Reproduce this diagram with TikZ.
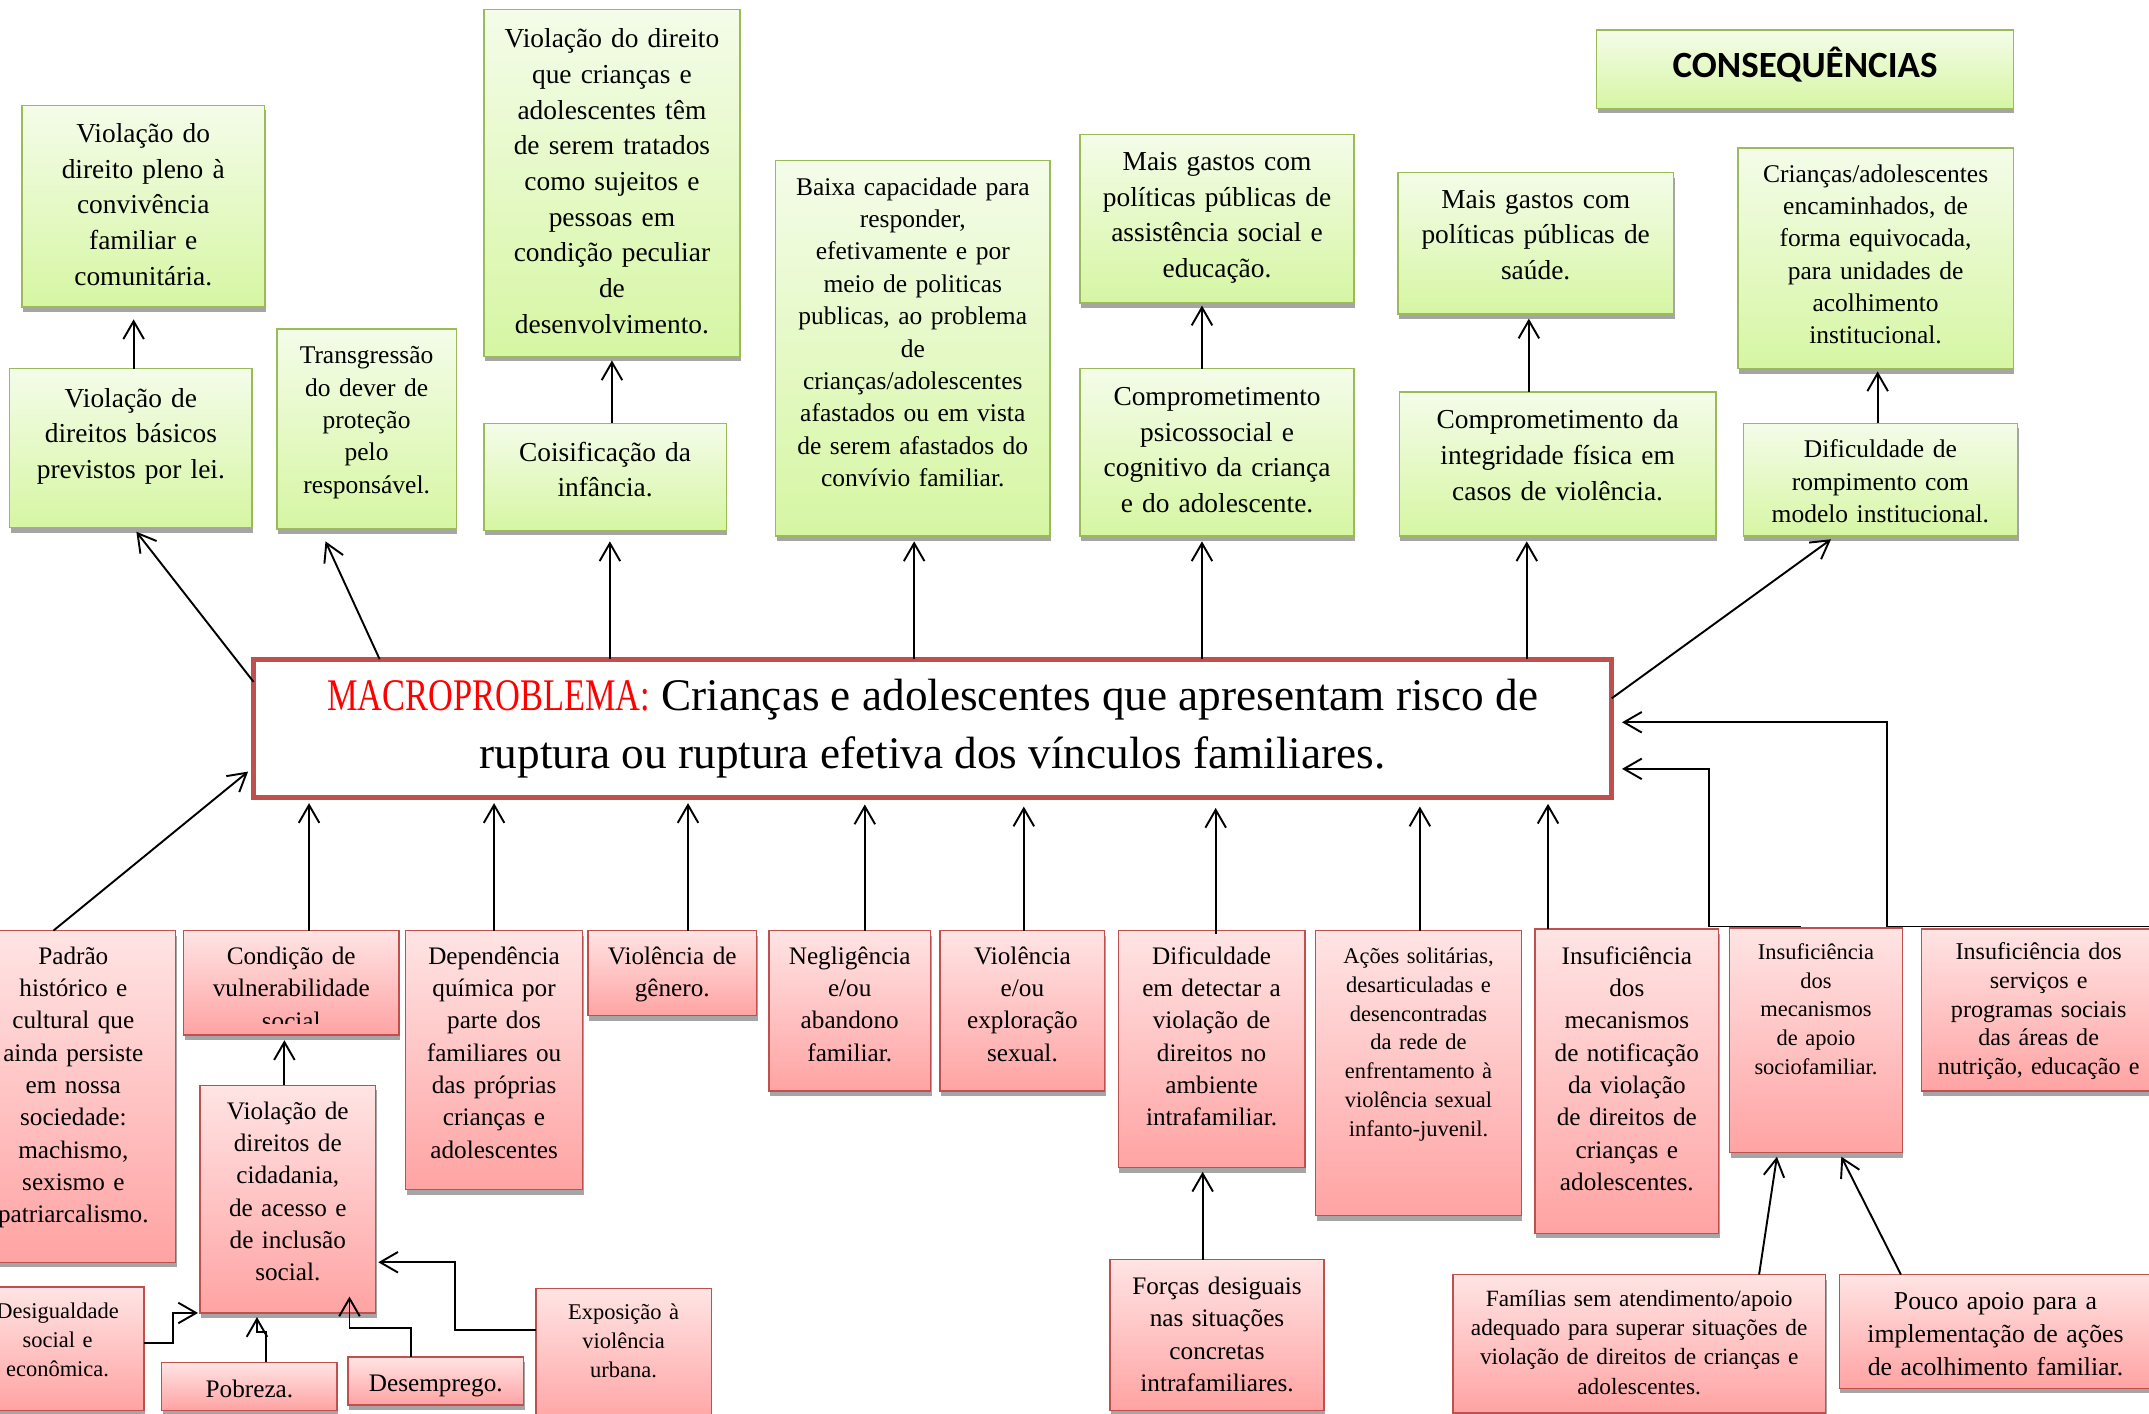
\documentclass[tikz,border=0pt]{standalone}
\usepackage{fontspec}
\setmainfont{Liberation Serif}
\newfontfamily\TitleFont{Carlito}
\usetikzlibrary{
  arrows.meta
  , shadows
  , calc
}
\definecolor{CnsqTop}{HTML}{F4FCE9}
\definecolor{CnsqBot}{HTML}{D6F6A3}
\definecolor{CnsqLine}{HTML}{9BBB59}
\definecolor{CauseTop}{HTML}{FFE4E4}
\definecolor{CauseBot}{HTML}{FFA3A3}
\definecolor{CauseLine}{HTML}{C0504D}
\definecolor{ShdwGray}{HTML}{A5A5A5}
\definecolor{MacroRed}{HTML}{FF0000}
\newcommand{\CnsqFont}{\fontsize{10}{13}\selectfont}
\newcommand{\CnsqFontSm}{\fontsize{9.3}{11.8}\selectfont}
\newcommand{\CauseFont}{\fontsize{9.2}{11.8}\selectfont}
\newcommand{\CauseFontSm}{\fontsize{8.2}{10.5}\selectfont}
\newcommand{\MacroFont}{\fontsize{16.5}{21}\selectfont}
\tikzset{
  box/.style={
    rectangle,
    anchor=north west,
    inner sep=0pt,
    outer sep=0pt,
    line width=0.55pt,
    align=center,
    general shadow={fill=ShdwGray, shadow xshift=0.4pt, shadow yshift=-1.8pt}
  },
  cnsq/.style={box, draw=CnsqLine, top color=CnsqTop, bottom color=CnsqBot, font=\CnsqFont},
  cause/.style={box, draw=CauseLine, top color=CauseTop, bottom color=CauseBot, font=\CauseFont},
  % width, baseline of first line, rest below it
  sz/.style n args={3}{minimum width=#1, text width=#1, text height=#2, text depth=#3},
  arr/.style={-{Straight Barb[length=6.5pt, width=7.5pt]}, line width=0.7pt},
}
\begin{document}
\begin{tikzpicture}[x=0.5pt, y=-0.5pt]
  \useasboundingbox (0,0) rectangle (1568,1031);
  \fill[white] (0,0) rectangle (1568,1031);
  \clip (0,0) rectangle (1568,1031);

  % ---- consequencias
  \node[cnsq, sz={88.5pt}{13.5pt}{60pt}] (DrtPleno) at (16,77)
    {Violação do\\direito pleno à\\convivência\\familiar e\\comunitária.};
  \node[cnsq, sz={88.5pt}{14pt}{44pt}] (DrtBasic) at (7,269)
    {Violação de\\direitos básicos\\previstos por lei.};
  \node[cnsq, sz={65.5pt}{12.75pt}{60.25pt}, font=\CnsqFontSm] (Trnsgr) at (202,240)
    {Transgressão\\do dever de\\proteção\\pelo\\responsável.};
  \node[cnsq, sz={93.5pt}{14pt}{112.5pt}] (DrtSujeito) at (353,7)
    {Violação do direito\\que crianças e\\adolescentes têm\\de serem tratados\\como sujeitos e\\pessoas em\\condição peculiar\\de\\desenvolvimento.};
  \node[cnsq, sz={88.5pt}{13.75pt}{25.25pt}] (Coisif) at (353,309)
    {Coisificação da\\infância.};
  \node[cnsq, sz={100pt}{12.75pt}{124.25pt}, font=\CnsqFontSm] (BaixaCap) at (566,117)
    {Baixa capacidade para\\responder,\\efetivamente e por\\meio de politicas\\publicas, ao problema\\de\\crianças/adolescentes\\afastados ou em vista\\de serem afastados do\\convívio familiar.};
  \node[cnsq, sz={100pt}{13.25pt}{48.25pt}] (GastoAssist) at (788,98)
    {Mais gastos com\\políticas públicas de\\assistência social e\\educação.};
  \node[cnsq, sz={100pt}{13.5pt}{47.5pt}] (CompPsico) at (788,269)
    {Comprometimento\\psicossocial e\\cognitivo da criança\\e do adolescente.};
  \node[cnsq, sz={100.5pt}{13pt}{38.5pt}] (GastoSaude) at (1020,126)
    {Mais gastos com\\políticas públicas de\\saúde.};
  \node[cnsq, sz={115.5pt}{13.5pt}{39pt}] (CompFisico) at (1021,286)
    {Comprometimento da\\integridade física em\\casos de violência.};
  \node[cnsq, sz={152pt}{17.35pt}{11.15pt}, font=\TitleFont\bfseries\fontsize{13.5}{16}\selectfont] (CnsqTitle) at (1165,22)
    {CONSEQUÊNCIAS};
  \node[cnsq, sz={100.5pt}{12.5pt}{68pt}, font=\CnsqFontSm] (EncInst) at (1268,108)
    {Crianças/adolescentes\\encaminhados, de\\forma equivocada,\\para unidades de\\acolhimento\\institucional.};
  \node[cnsq, sz={100pt}{12.5pt}{28.5pt}, font=\CnsqFontSm] (DifRomp) at (1272,309)
    {Dificuldade de\\rompimento com\\modelo institucional.};

  % ---- macroproblema
  \node[draw=CauseLine,
    fill=white,
    line width=1.8pt,
    inner sep=0pt,
    outer sep=0pt,
    minimum width=495.5pt,
    minimum height=50.5pt,
    align=center,
    font=\MacroFont] (Macro) at (680.5,531.5)
    {{\color{MacroRed}\scalebox{0.76}[1]{MACROPROBLEMA:}} Crianças e adolescentes que apresentam risco de\\ruptura ou ruptura efetiva dos vínculos familiares.};

  % ---- causas
  \node[cause, sz={74.5pt}{12.25pt}{108.75pt}] (PadHist) at (-21,679)
    {Padrão\\histórico e\\cultural que\\ainda persiste\\em nossa\\sociedade:\\machismo,\\sexismo e\\patriarcalismo.};
  \node[cause, sz={78.5pt}{12.25pt}{25.75pt},
    path picture={
      \clip ([yshift=4pt]path picture bounding box.south west) rectangle (path picture bounding box.north east);
      \node[anchor=base, font=\CauseFont] at ([yshift=-36.1pt]path picture bounding box.north) {social};
    }] (CondVuln) at (134,679)
    {Condição de\\vulnerabilidade};
  \node[cause, sz={64.5pt}{12.25pt}{82.25pt}] (DepQuim) at (296,679)
    {Dependência\\química por\\parte dos\\familiares ou\\das próprias\\crianças e\\adolescentes};
  \node[cause, sz={61.5pt}{12.25pt}{18.75pt}] (VlncGen) at (429,679)
    {Violência de\\gênero.};
  \node[cause, sz={59pt}{12.25pt}{46.25pt}] (Neglig) at (561,679)
    {Negligência\\e/ou\\abandono\\familiar.};
  \node[cause, sz={60pt}{12.25pt}{46.25pt}] (VlncSex) at (686,679)
    {Violência\\e/ou\\exploração\\sexual.};
  \node[cause, sz={68pt}{12.25pt}{74.25pt}] (DifDetect) at (816,679)
    {Dificuldade\\em detectar a\\violação de\\direitos no\\ambiente\\intrafamiliar.};
  \node[cause, sz={75pt}{12pt}{92pt}, font=\CauseFontSm] (AcoesSol) at (960,679)
    {Ações solitárias,\\desarticuladas e\\desencontradas\\da rede de\\enfrentamento à\\violência sexual\\infanto-juvenil.};
  \node[cause, sz={67pt}{12.75pt}{98.25pt}] (InsufNotif) at (1120,678)
    {Insuficiência\\dos\\mecanismos\\de notificação\\da violação\\de direitos de\\crianças e\\adolescentes.};
  \node[cause, sz={63pt}{11.5pt}{70.5pt}, font=\CauseFontSm] (InsufApoio) at (1262,677)
    {Insuficiência\\dos\\mecanismos\\de apoio\\sociofamiliar.};
  \node[cause, sz={85.5pt}{11.1pt}{47.9pt}, font=\fontsize{8.8}{10.5}\selectfont] (InsufServ) at (1402,678)
    {Insuficiência dos\\serviços e\\programas sociais\\das áreas de\\nutrição, educação e};
  \node[cause, sz={64pt}{12.25pt}{70.75pt}] (VltnCidad) at (146,792)
    {Violação de\\direitos de\\cidadania,\\de acesso e\\de inclusão\\social.};
  \node[cause, sz={63pt}{11.5pt}{33.5pt}, font=\CauseFontSm] (Desig) at (-21,939)
    {Desigualdade\\social e\\econômica.};
  \node[cause, sz={64pt}{12.75pt}{4.75pt}] (Pobreza) at (118,994)
    {Pobreza.};
  \node[cause, sz={64pt}{12.75pt}{4.75pt}] (Desemp) at (254,990)
    {Desemprego.};
  \node[cause, sz={64pt}{11.5pt}{38.5pt}, font=\CauseFontSm] (ExpViol) at (391,940)
    {Exposição à\\violência\\urbana.};
  \node[cause, sz={78pt}{12.75pt}{42.25pt}] (ForcasDesig) at (810,919)
    {Forças desiguais\\nas situações\\concretas\\intrafamiliares.};
  \node[cause, sz={136pt}{11.5pt}{39pt}, font=\fontsize{8.5}{10.7}\selectfont] (FamSemApoio) at (1060,930)
    {Famílias sem atendimento/apoio\\adequado para superar situações de\\violação de direitos de crianças e\\adolescentes.};
  \node[cause, sz={114pt}{12.75pt}{28.75pt}, font=\fontsize{9.4}{12}\selectfont] (PoucoApoio) at (1342,930)
    {Pouco apoio para a\\implementação de ações\\de acolhimento familiar.};

  % ---- setas: macroproblema -> consequencias
  \draw[arr] ([shift={(0,-34)}]Macro.west) -- ([shift={(4,3)}]DrtBasic.south);
  \draw[arr] ([shift={(92,0)}]Macro.north west) -- ([shift={(-30,9)}]Trnsgr.south);
  \draw[arr] ([shift={(260,0)}]Macro.north west) -- ([shift={(3.5,8)}]Coisif.south);
  \draw[arr] ([shift={(482,0)}]Macro.north west) -- ([shift={(1,4)}]BaixaCap.south);
  \draw[arr] ([shift={(692,0)}]Macro.north west) -- ([shift={(-11,4)}]CompPsico.south);
  \draw[arr] ([shift={(929,0)}]Macro.north west) -- ([shift={(-22.5,4)}]CompFisico.south);
  \draw[arr] ([shift={(0,-22)}]Macro.east) -- ([shift={(-36,2.5)}]DifRomp.south);

  \draw[arr] ([shift={(2,0)}]DrtBasic.north) -- ([shift={(-7,9)}]DrtPleno.south);
  \draw[arr] ([shift={(5,0)}]Coisif.north) -- ([shift={(0,3)}]DrtSujeito.south);
  \draw[arr] ([shift={(-11,0)}]CompPsico.north) -- ([shift={(-11,2)}]GastoAssist.south);
  \draw[arr] ([shift={(-21,0)}]CompFisico.north) -- ([shift={(-5,3.5)}]GastoSaude.south);
  \draw[arr] ([shift={(-2,0)}]DifRomp.north) -- ([shift={(1.5,2)}]EncInst.south);

  % ---- setas: causas -> macroproblema
  \draw[arr] ([shift={(-14.5,0)}]PadHist.north) -- ([shift={(-4,31.5)}]Macro.west);
  \draw[arr] ([shift={(13,0)}]CondVuln.north) -- ([shift={(40.5,4)}]Macro.south west);
  \draw[arr] (DepQuim.north) -- ([shift={(175.5,4)}]Macro.south west);
  \draw[arr] ([shift={(11.5,0)}]VlncGen.north) -- ([shift={(317,4)}]Macro.south west);
  \draw[arr] ([shift={(11,0)}]Neglig.north) -- ([shift={(446,5)}]Macro.south west);
  \draw[arr] ([shift={(1,0)}]VlncSex.north) -- ([shift={(562,6.5)}]Macro.south west);
  \draw[arr] ([shift={(3,2.5)}]DifDetect.north) -- ([shift={(702,7.5)}]Macro.south west);
  \draw[arr] ([shift={(1,0)}]AcoesSol.north) -- ([shift={(851,6.5)}]Macro.south west);
  \draw[arr] ([shift={(-57.5,0)}]InsufNotif.north) -- ([shift={(944.5,4.5)}]Macro.south west);
  \draw[arr] ([shift={(52,-1)}]InsufApoio.north west) -- ++(-67,0) |- ([shift={(7.5,29.5)}]Macro.east);
  \draw[arr] ([shift={(30,-2)}]InsufServ.north east) -- ++(-226,0) |- ([shift={(7.5,-4.5)}]Macro.east);

  % ---- setas entre causas
  \draw[arr] ([shift={(-2.5,0)}]VltnCidad.north) -- ([shift={(-5,4)}]CondVuln.south);
  \draw[arr] ([shift={(0,-4)}]Desig.east) -- ++(21,0) |- ([shift={(-1.5,0)}]VltnCidad.south west);
  \draw[arr] ([shift={(12,0)}]Pobreza.north) -- ++(0,-22) -- ++(-6.5,0) -- ([shift={(-22.5,3)}]VltnCidad.south);
  \draw[arr] ([shift={(-18,0)}]Desemp.north) -- ++(0,-21) -| ([shift={(45,-12)}]VltnCidad.south);
  \draw[arr] ([shift={(0,-19.5)}]ExpViol.west) -- ++(-59,0) |- ([shift={(2,46)}]VltnCidad.east);
  \draw[arr] ([shift={(-10.5,0)}]ForcasDesig.north) -- ([shift={(-6.5,3)}]DifDetect.south);
  \draw[arr] ([shift={(87.5,0)}]FamSemApoio.north) -- ([shift={(-28.5,3)}]InsufApoio.south);
  \draw[arr] ([shift={(45,0)}]PoucoApoio.north west) -- ([shift={(18.5,3)}]InsufApoio.south);
\end{tikzpicture}
\end{document}
